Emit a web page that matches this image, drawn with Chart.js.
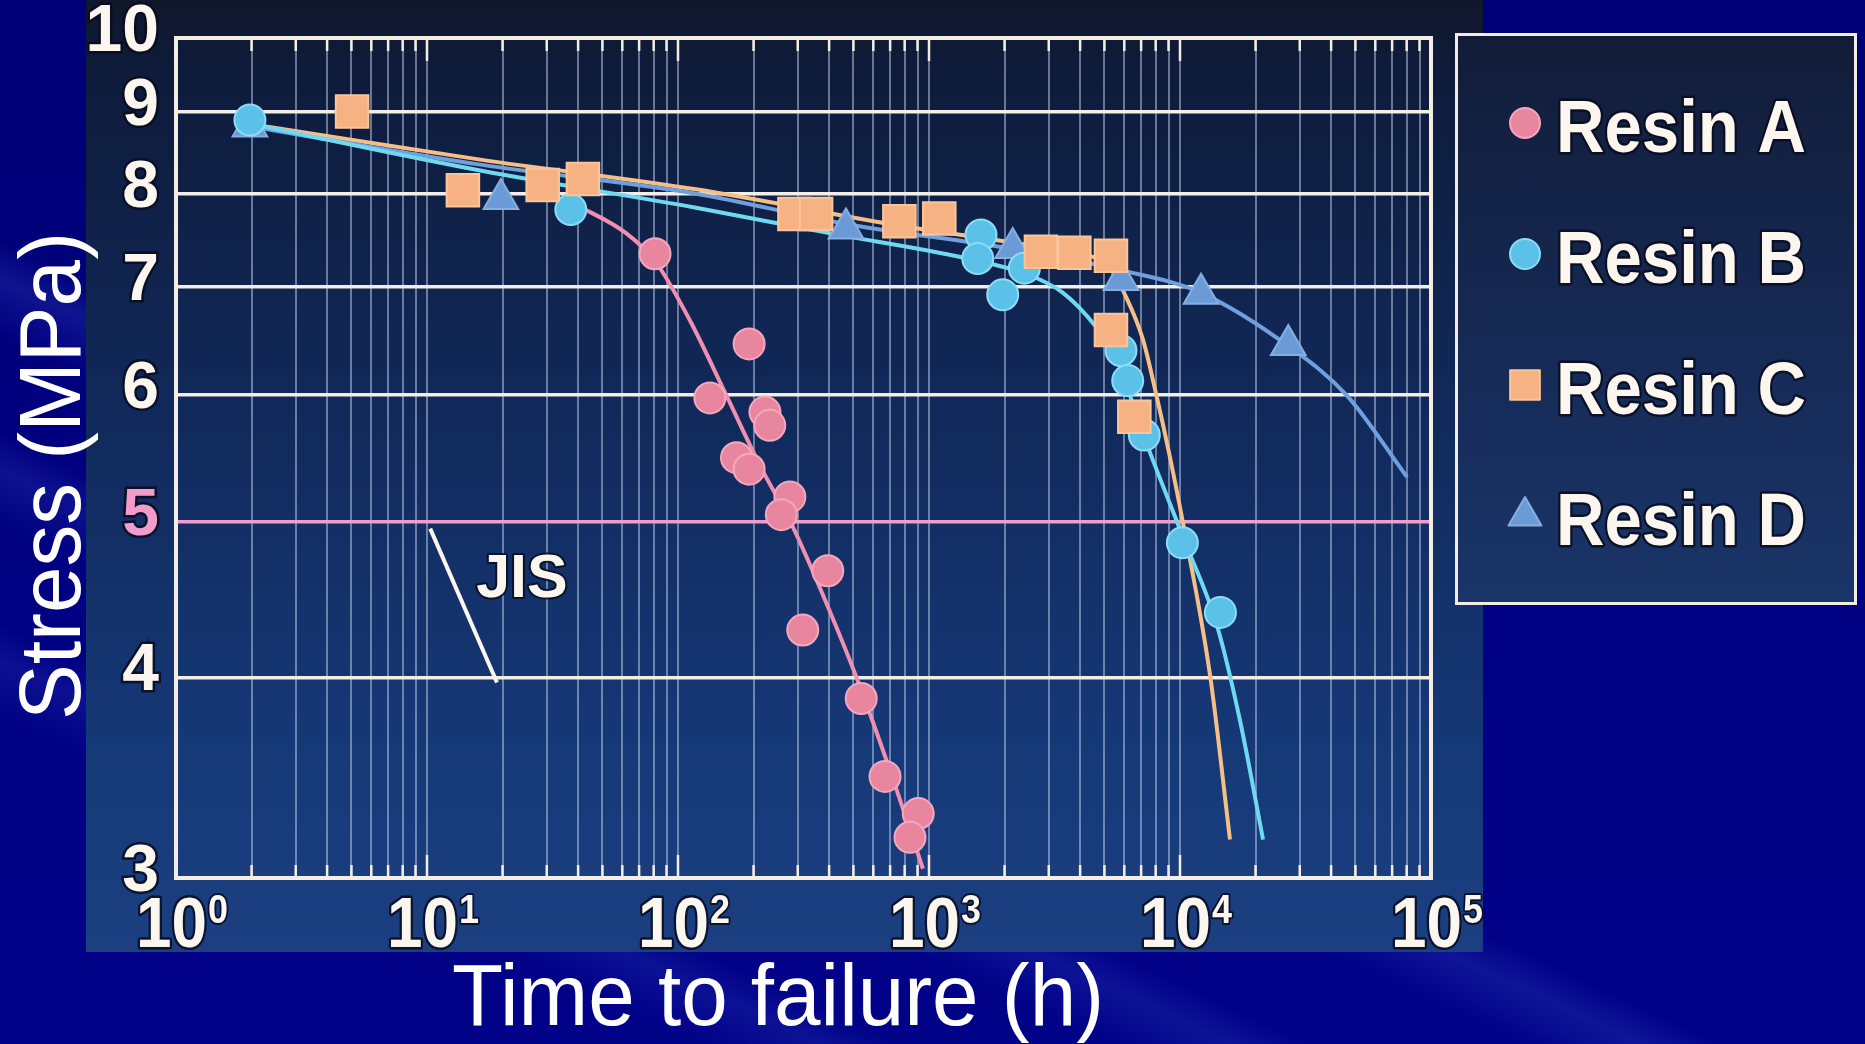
<!DOCTYPE html>
<html>
<head>
<meta charset="utf-8">
<title>Stress vs time to failure</title>
<script src="https://cdn.jsdelivr.net/npm/chart.js@4.4.1/dist/chart.umd.min.js"></script>
<style>
    html, body {
        margin: 0;
        padding: 0;
    }
    body {
        width: 1865px;
        height: 1044px;
        overflow: hidden;
        position: relative;
        background:
            linear-gradient(205deg, transparent 0 58%, rgba(60, 80, 200, 0.25) 60%, transparent 63%,
                transparent 68%, rgba(60, 80, 200, 0.22) 70%, transparent 73%,
                transparent 78%, rgba(60, 80, 200, 0.2) 80%, transparent 83%),
            linear-gradient(180deg, #000076 0%, #000082 55%, #000288 100%);
    }
    #panel {
        position: absolute;
        left: 86px;
        top: 0;
        width: 1397px;
        height: 952px;
        background: linear-gradient(180deg, #10172a 0%, #0e1b3a 7%, #112a5c 45%, #163978 80%, #1b3f80 100%);
    }
    #legendBox {
        position: absolute;
        left: 1455px;
        top: 33px;
        width: 396px;
        height: 566px;
        border: 3px solid #f3ece2;
        background: linear-gradient(180deg, #121c38 0%, #162b58 60%, #1a3568 100%);
    }
    #chart {
        position: absolute;
        left: 0;
        top: 0;
    }
</style>
</head>
<body>
<div id="panel"></div>
<div id="legendBox"></div>
<canvas id="chart" width="1865" height="1044"></canvas>
<script>
// measured points (time in h, stress in MPa)
const resinATime = [81, 192, 134, 222, 232, 171, 192, 279, 258, 395, 314, 537, 668, 906, 840];
const resinAStress = [7.34, 6.45, 5.97, 5.85, 5.74, 5.48, 5.39, 5.18, 5.05, 4.66, 4.28, 3.88, 3.47, 3.29, 3.18];

const resinBTime = [1.97, 37.4, 1611, 1564, 2398, 1966, 5821, 6190, 7207, 10220, 14490];
const resinBStress = [8.89, 7.82, 7.54, 7.29, 7.19, 6.92, 6.39, 6.12, 5.66, 4.85, 4.39];

const resinCTime = [5.03, 13.9, 28.9, 41.8, 291, 355, 762, 1099, 2793, 3794, 5309, 5309, 6577];
const resinCStress = [9.0, 8.04, 8.10, 8.17, 7.77, 7.77, 7.69, 7.72, 7.36, 7.35, 7.32, 6.58, 5.81];

const resinDTime = [1.97, 19.7, 467, 2155, 5821, 12130, 27000];
const resinDStress = [8.81, 7.94, 7.61, 7.40, 7.07, 6.93, 6.44];

// fitted curves
const curveATime = [38.9, 62.1, 81.7, 111.6, 156.7, 212, 287, 385, 517, 699, 946];
const curveAStress = [7.88, 7.56, 7.25, 6.67, 5.98, 5.42, 4.96, 4.47, 3.99, 3.50, 3.04];

const curveBTime = [2.0, 16.3, 118, 400, 1366, 2503, 3420, 4627, 5559, 7120, 10280, 14030, 17340, 21420];
const curveBStress = [8.84, 8.27, 7.84, 7.56, 7.30, 7.12, 6.94, 6.61, 6.33, 5.67, 4.89, 4.31, 3.76, 3.17];

const curveCTime = [2.06, 16.3, 118, 766, 3034, 5213, 6095, 7120, 8020, 9040, 10280, 13180, 15820];
const curveCStress = [8.83, 8.40, 8.05, 7.64, 7.39, 7.20, 6.90, 6.49, 6.01, 5.52, 4.99, 4.01, 3.17];

const curveDTime = [2.06, 16.3, 118, 467, 2161, 5821, 12130, 27420, 46260, 80200];
const curveDStress = [8.80, 8.34, 8.00, 7.66, 7.39, 7.17, 6.94, 6.42, 5.99, 5.33];

const jisTime = [10.3, 19.0];
const jisStress = [4.95, 3.97];
const jisLabel = "JIS";
const jisLabelTime = 15.7;
const jisLabelStress = 4.6;

const seriesLabels = ["Resin A", "Resin B", "Resin C", "Resin D"];
const yTickValues = [3, 4, 5, 6, 7, 8, 9, 10];
const xDecades = [1, 10, 100, 1000, 10000, 100000];
const xTickBase = "10";
const xTickExponents = ["0", "1", "2", "3", "4", "5"];
const xTitle = "Time to failure (h)";
const yTitle = "Stress (MPa)";

const FONT = '"Liberation Sans", Arial, Helvetica, sans-serif';
const WHITE = "#fbf6ee";
const PINK_LINE = "#f29ccc";
const OUTLINE = "rgba(8, 12, 30, 0.85)";

function toPoints(xs, ys) {
    return xs.map((x, i) => ({ x, y: ys[i] }));
}

function xGridValues() {
    const values = [];
    xDecades.slice(0, -1).forEach((d) => {
        for (let m = 1; m < 10; m++) values.push(d * m);
    });
    values.push(xDecades[xDecades.length - 1]);
    return values;
}

function markerSet(label, xs, ys, style, radius, fill, edge, order) {
    return {
        label,
        data: toPoints(xs, ys),
        showLine: false,
        pointStyle: style,
        pointRadius: radius,
        pointBackgroundColor: fill,
        pointBorderColor: edge,
        pointBorderWidth: 2,
        legendItem: true,
        order
    };
}

function curveSet(xs, ys, color, order) {
    return {
        label: "",
        data: toPoints(xs, ys),
        showLine: true,
        borderColor: color,
        borderWidth: 4,
        pointRadius: 0,
        cubicInterpolationMode: "monotone",
        order
    };
}

function outlinedText(ctx, text, x, y, maxWidth, width) {
    ctx.lineJoin = "round";
    ctx.strokeStyle = OUTLINE;
    ctx.lineWidth = width;
    ctx.strokeText(text, x, y, maxWidth);
    ctx.fillStyle = WHITE;
    ctx.fillText(text, x, y, maxWidth);
}

const framePlugin = {
    id: "frame",
    beforeDatasetsDraw(chart) {
        const { ctx, chartArea: a, scales } = chart;
        ctx.save();
        ctx.strokeStyle = "#f4ede3";
        ctx.lineWidth = 2.5;
        scales.x.ticks.forEach((t) => {
            const px = scales.x.getPixelForValue(t.value);
            const len = xDecades.includes(t.value) ? 23 : 13;
            ctx.beginPath();
            ctx.moveTo(px, a.top);
            ctx.lineTo(px, a.top + len);
            ctx.moveTo(px, a.bottom);
            ctx.lineTo(px, a.bottom - len);
            ctx.stroke();
        });
        ctx.lineWidth = 4;
        ctx.strokeRect(a.left, a.top, a.right - a.left, a.bottom - a.top);
        ctx.restore();
    }
};

const textPlugin = {
    id: "texts",
    afterDatasetsDraw(chart) {
        const { ctx, scales } = chart;
        ctx.save();
        ctx.font = `bold 61px ${FONT}`;
        ctx.textAlign = "left";
        ctx.textBaseline = "middle";
        outlinedText(ctx, jisLabel, scales.x.getPixelForValue(jisLabelTime),
            scales.y.getPixelForValue(jisLabelStress), undefined, 4);
        ctx.restore();
    },
    afterDraw(chart) {
        const { ctx, scales } = chart;

        // x tick labels as 10 with a raised exponent
        ctx.save();
        ctx.textAlign = "left";
        ctx.textBaseline = "alphabetic";
        xDecades.forEach((d, i) => {
            const px = scales.x.getPixelForValue(d);
            ctx.font = `bold 70px ${FONT}`;
            outlinedText(ctx, xTickBase, px - 40, 947, 71, 5);
            ctx.font = `bold 40px ${FONT}`;
            outlinedText(ctx, xTickExponents[i], px + 32, 923, 20, 4);
        });
        ctx.restore();

        // axis titles
        ctx.save();
        ctx.fillStyle = "#ffffff";
        ctx.font = `88px ${FONT}`;
        ctx.textAlign = "center";
        ctx.textBaseline = "alphabetic";
        ctx.fillText(xTitle, 778, 1025, 652);
        ctx.translate(80, 476);
        ctx.rotate(-Math.PI / 2);
        ctx.fillText(yTitle, 0, 0, 488);
        ctx.restore();

        // legend
        const items = chart.data.datasets.filter((d) => d.legendItem)
            .sort((p, q) => seriesLabels.indexOf(p.label) - seriesLabels.indexOf(q.label));
        const baselines = [152, 283, 414, 545];
        const legendRadius = { circle: 15, rect: 21, triangle: 19 };
        ctx.save();
        items.forEach((d, i) => {
            const cy = baselines[i] - 29;
            ctx.fillStyle = d.pointBackgroundColor;
            ctx.strokeStyle = d.pointBorderColor;
            ctx.lineWidth = 2;
            Chart.helpers.drawPoint(ctx, {
                pointStyle: d.pointStyle,
                radius: legendRadius[d.pointStyle],
                rotation: 0,
                borderWidth: 2
            }, 1525, cy);
            ctx.font = `bold 74px ${FONT}`;
            ctx.textAlign = "left";
            ctx.textBaseline = "alphabetic";
            outlinedText(ctx, d.label, 1556, baselines[i], 250, 5);
        });
        ctx.restore();
    }
};

const datasets = [
    markerSet(seriesLabels[0], resinATime, resinAStress, "circle", 15.5, "#e9869f", "#f3a8bd", 1),
    markerSet(seriesLabels[2], resinCTime, resinCStress, "rect", 23, "#f7b283", "#fbc59c", 2),
    markerSet(seriesLabels[1], resinBTime, resinBStress, "circle", 15.5, "#5cc1e9", "#8ddcf5", 3),
    markerSet(seriesLabels[3], resinDTime, resinDStress, "triangle", 20, "#6b9bd6", "#86aee0", 4),
    curveSet(curveATime, curveAStress, "#f08fb0", 10),
    curveSet(curveBTime, curveBStress, "#6fd9f2", 11),
    curveSet(curveDTime, curveDStress, "#6f9fdc", 12),
    curveSet(curveCTime, curveCStress, "#f6bf86", 13),
    {
        label: "",
        data: toPoints(jisTime, jisStress),
        showLine: true,
        borderColor: WHITE,
        borderWidth: 4,
        pointRadius: 0,
        order: 14
    }
];

new Chart(document.getElementById("chart").getContext("2d"), {
    type: "scatter",
    data: { datasets },
    options: {
        responsive: false,
        animation: false,
        devicePixelRatio: 1,
        layout: {
            padding: { left: 0, top: 38, right: 434, bottom: 0 }
        },
        plugins: {
            legend: { display: false },
            tooltip: { enabled: false }
        },
        scales: {
            x: {
                type: "logarithmic",
                min: 1,
                max: 100000,
                afterFit(scale) {
                    scale.height = 166;
                    scale.paddingLeft = 0;
                    scale.paddingRight = 0;
                },
                afterBuildTicks(scale) {
                    scale.ticks = xGridValues().map((value) => ({ value }));
                },
                border: { display: false },
                grid: {
                    color: "rgba(195, 210, 235, 0.5)",
                    lineWidth: 2,
                    drawTicks: false
                },
                ticks: {
                    display: false,
                    autoSkip: false,
                    maxRotation: 0,
                    minRotation: 0
                }
            },
            y: {
                type: "logarithmic",
                min: 3,
                max: 10,
                afterFit(scale) {
                    scale.width = 176;
                    scale.paddingTop = 0;
                    scale.paddingBottom = 0;
                },
                afterBuildTicks(scale) {
                    scale.ticks = yTickValues.map((value) => ({ value }));
                },
                border: { display: false },
                grid: {
                    color(context) {
                        return context.tick && context.tick.value === 5 ? PINK_LINE : "#f3eee6";
                    },
                    lineWidth: 3.5,
                    drawTicks: false
                },
                ticks: {
                    padding: 17,
                    labelOffset: -5,
                    color(context) {
                        return context.tick && context.tick.value === 5 ? PINK_LINE : WHITE;
                    },
                    textStrokeColor: OUTLINE,
                    textStrokeWidth: 5,
                    font: { family: FONT, size: 66, weight: "bold" },
                    callback(value) {
                        return String(value);
                    }
                }
            }
        }
    },
    plugins: [framePlugin, textPlugin]
});
</script>
</body>
</html>
